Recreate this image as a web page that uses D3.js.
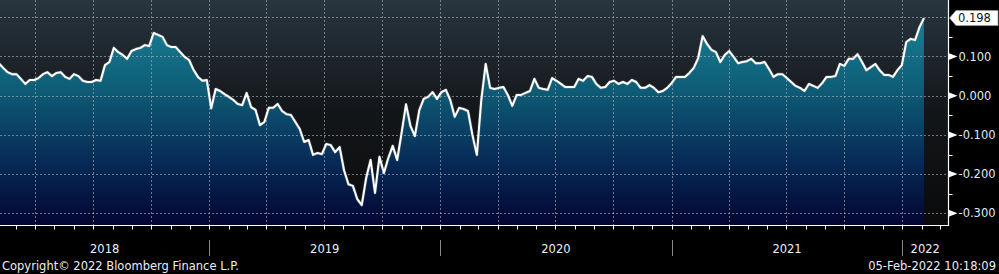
<!DOCTYPE html>
<html>
<head>
<meta charset="utf-8">
<script src="https://cdn.jsdelivr.net/npm/d3@7"></script>
<style>
	html, body { margin: 0; padding: 0; background: #000; }
	svg { display: block; }
	text { font-family: "DejaVu Sans", sans-serif; font-size: 11.5px; }
</style>
</head>
<body>
<svg id="chart" width="999" height="274"></svg>
<script>

function whenDocumentLoaded(action) {
	if (document.readyState === "loading") {
		document.addEventListener("DOMContentLoaded", action);
	} else {
		action();
	}
}

// weekly closes (Fridays) starting 2018-02-02
const START_DATE = "2018-02-02";
const VALUES = [
	0.083, 0.071, 0.060, 0.055, 0.055, 0.043, 0.030, 0.040, 0.040, 0.045,
	0.055, 0.060, 0.050, 0.058, 0.060, 0.048, 0.043, 0.055, 0.050, 0.038,
	0.035, 0.035, 0.040, 0.038, 0.078, 0.086, 0.122, 0.111, 0.104, 0.094,
	0.114, 0.119, 0.122, 0.129, 0.127, 0.160, 0.155, 0.150, 0.129, 0.124,
	0.124, 0.111, 0.099, 0.091, 0.066, 0.048, 0.038, 0.040, -0.032, 0.017,
	0.012, 0.004, -0.003, -0.011, -0.021, -0.024, 0.007, -0.029, -0.036, -0.075,
	-0.067, -0.031, -0.031, -0.021, -0.039, -0.047, -0.049, -0.067, -0.085, -0.118,
	-0.113, -0.151, -0.146, -0.149, -0.123, -0.126, -0.144, -0.131, -0.190, -0.226,
	-0.230, -0.264, -0.279, -0.210, -0.164, -0.248, -0.156, -0.197, -0.159, -0.128,
	-0.164, -0.095, -0.022, -0.077, -0.103, -0.037, -0.008, -0.003, 0.009, -0.008,
	0.009, 0.015, -0.011, -0.054, -0.031, -0.034, -0.039, -0.100, -0.151, -0.011,
	0.081, 0.020, 0.017, 0.020, 0.022, 0.002, -0.026, 0.002, 0.002, 0.007,
	0.012, 0.043, 0.020, 0.017, 0.015, 0.045, 0.038, 0.030, 0.022, 0.022,
	0.022, 0.043, 0.038, 0.050, 0.048, 0.030, 0.020, 0.022, 0.035, 0.038,
	0.030, 0.035, 0.030, 0.040, 0.035, 0.020, 0.020, 0.027, 0.020, 0.009,
	0.012, 0.020, 0.032, 0.048, 0.048, 0.048, 0.058, 0.071, 0.096, 0.152,
	0.132, 0.117, 0.111, 0.086, 0.104, 0.114, 0.099, 0.083, 0.086, 0.088,
	0.094, 0.083, 0.083, 0.086, 0.068, 0.048, 0.055, 0.055, 0.045, 0.035,
	0.025, 0.020, 0.012, 0.030, 0.025, 0.020, 0.032, 0.048, 0.048, 0.050,
	0.081, 0.076, 0.094, 0.094, 0.106, 0.086, 0.065, 0.073, 0.081, 0.065,
	0.053, 0.053, 0.048, 0.065, 0.078, 0.137, 0.145, 0.142, 0.175, 0.198
];
const Y_LABELS = [0.1, 0.0, -0.1, -0.2, -0.3];
const Y_GRID = [0.2, 0.1, 0.0, -0.1, -0.2, -0.3];
const Y_MINOR = [0.15, 0.05, -0.05, -0.15, -0.25];
const YEARS = [2018, 2019, 2020, 2021, 2022];
const COPYRIGHT = "Copyright\u00a9 2022 Bloomberg Finance L.P.";
const STAMP = "05-Feb-2022 10:18:09";

const PLOT = { width: 948, height: 225 };

class BloombergChart {
	constructor(svgId, data) {
		this.svg = d3.select(`#${svgId}`);
		this.data = data;
		this.x = d3.scaleTime()
			.domain([new Date(2018, 1, 4), new Date(2022, 2, 14)])
			.range([0, PLOT.width]);
		this.y = d3.scaleLinear()
			.domain([-0.3298, 0.2441])
			.range([PLOT.height, 0]);
	}

	defs() {
		const defs = this.svg.append("defs");
		const bg = defs.append("linearGradient").attr("id", "bg")
			.attr("x1", 0).attr("y1", 0).attr("x2", 0).attr("y2", 1);
		bg.append("stop").attr("offset", "0%").attr("stop-color", "#28353f");
		bg.append("stop").attr("offset", "50%").attr("stop-color", "#131619");
		bg.append("stop").attr("offset", "100%").attr("stop-color", "#0a0a0b");

		const fill = defs.append("linearGradient").attr("id", "fill")
			.attr("gradientUnits", "userSpaceOnUse")
			.attr("x1", 0).attr("y1", 0).attr("x2", 0).attr("y2", PLOT.height);
		fill.append("stop").attr("offset", "0%").attr("stop-color", "#1a8a9c");
		fill.append("stop").attr("offset", "40%").attr("stop-color", "#0e5c76");
		fill.append("stop").attr("offset", "72%").attr("stop-color", "#072a56");
		fill.append("stop").attr("offset", "100%").attr("stop-color", "#020532");

		defs.append("clipPath").attr("id", "clip")
			.append("rect").attr("width", PLOT.width).attr("height", PLOT.height);
	}

	show() {
		this.defs();
		const x = this.x, y = this.y;

		this.svg.append("rect")
			.attr("width", PLOT.width).attr("height", PLOT.height)
			.attr("fill", "url(#bg)");

		const plot = this.svg.append("g").attr("clip-path", "url(#clip)");

		const area = d3.area()
			.x(d => x(d.date))
			.y0(PLOT.height)
			.y1(d => y(d.value));
		plot.append("path")
			.datum(this.data)
			.attr("d", area)
			.attr("fill", "url(#fill)");

		// grid
		const grid = plot.append("g")
			.attr("stroke", "#a4acb4")
			.attr("stroke-opacity", 0.65)
			.attr("stroke-dasharray", "2,2");
		grid.selectAll(".hg")
			.data(Y_GRID)
			.enter()
			.append("line")
			.attr("x1", 0).attr("x2", PLOT.width)
			.attr("y1", d => Math.round(y(d)) + 0.5)
			.attr("y2", d => Math.round(y(d)) + 0.5);
		grid.selectAll(".vg")
			.data(x.ticks(d3.timeMonth.every(3)))
			.enter()
			.append("line")
			.attr("y1", 0).attr("y2", PLOT.height)
			.attr("x1", d => Math.round(x(d)) + 0.5)
			.attr("x2", d => Math.round(x(d)) + 0.5);

		const line = d3.line()
			.x(d => x(d.date))
			.y(d => y(d.value));
		plot.append("path")
			.datum(this.data)
			.attr("d", line)
			.attr("fill", "none")
			.attr("stroke", "#9aa3aa")
			.attr("stroke-width", 3.2)
			.attr("stroke-opacity", 0.35)
			.attr("stroke-linejoin", "round");
		plot.append("path")
			.datum(this.data)
			.attr("d", line)
			.attr("fill", "none")
			.attr("stroke", "#ffffff")
			.attr("stroke-width", 2)
			.attr("stroke-linejoin", "round");

		this.rightAxis();
		this.bottomAxis();
		this.lastValue();

		this.svg.append("text")
			.attr("x", 2).attr("y", 269.5)
			.attr("fill", "#e8eef6")
			.text(COPYRIGHT);
		this.svg.append("text")
			.attr("x", 996).attr("y", 269.5)
			.attr("text-anchor", "end")
			.attr("fill", "#e8eef6")
			.text(STAMP);
	}

	rightAxis() {
		const y = this.y;
		const ax = this.svg.append("g").attr("transform", `translate(${PLOT.width + 0.5},0)`);
		ax.append("line")
			.attr("x1", 0).attr("x2", 0)
			.attr("y1", 0).attr("y2", PLOT.height + 1)
			.attr("stroke", "#fff").attr("stroke-width", 1.2);
		ax.selectAll(".minor")
			.data(Y_MINOR)
			.enter()
			.append("line")
			.attr("x1", 0).attr("x2", 4)
			.attr("y1", d => Math.round(y(d)) + 0.5)
			.attr("y2", d => Math.round(y(d)) + 0.5)
			.attr("stroke", "#fff");
		const major = ax.selectAll(".major")
			.data(Y_LABELS)
			.enter()
			.append("g")
			.attr("transform", d => `translate(0,${y(d)})`);
		major.append("path")
			.attr("d", "M0,-3.5L9,0L0,3.5Z")
			.attr("fill", "#fff");
		major.append("text")
			.attr("x", 10).attr("dy", "0.36em")
			.attr("fill", "#dfeaf6")
			.text(d => d3.format(".3f")(d).replace("\u2212", "-"));
	}

	bottomAxis() {
		const x = this.x;
		const base = PLOT.height + 0.5;
		const ax = this.svg.append("g");
		ax.append("line")
			.attr("x1", 0).attr("x2", PLOT.width + 1)
			.attr("y1", base).attr("y2", base)
			.attr("stroke", "#fff").attr("stroke-width", 1.2);
		ax.selectAll(".mt")
			.data(x.ticks(d3.timeMonth.every(1)))
			.enter()
			.append("line")
			.attr("x1", d => Math.round(x(d)) + 0.5)
			.attr("x2", d => Math.round(x(d)) + 0.5)
			.attr("y1", base).attr("y2", base + 4)
			.attr("stroke", "#fff");

		const [d0, d1] = x.domain();
		const years = YEARS.map(yr => {
			const s = new Date(yr, 0, 1), e = new Date(yr + 1, 0, 1);
			return { year: yr, start: s < d0 ? d0 : s, end: e > d1 ? d1 : e, boundary: s > d0 ? s : null };
		});
		ax.selectAll(".sep")
			.data(years.filter(d => d.boundary))
			.enter()
			.append("line")
			.attr("x1", d => Math.round(x(d.boundary)) + 0.5)
			.attr("x2", d => Math.round(x(d.boundary)) + 0.5)
			.attr("y1", 240).attr("y2", 256)
			.attr("stroke", "#8a8a8a");
		ax.selectAll(".yl")
			.data(years)
			.enter()
			.append("text")
			.attr("x", d => (x(d.start) + x(d.end)) / 2)
			.attr("y", 252.5)
			.attr("text-anchor", "middle")
			.attr("fill", "#eaf0f8")
			.text(d => d.year);
	}

	lastValue() {
		const last = this.data[this.data.length - 1];
		const cy = this.y(last.value);
		const g = this.svg.append("g").attr("transform", `translate(${PLOT.width + 1},${cy})`);
		g.append("path")
			.attr("d", "M0.5,0L7,-7.5L49,-7.5L49,7.5L7,7.5Z")
			.attr("fill", "#fff")
			.attr("stroke", "#9a9a9a")
			.attr("stroke-width", 0.8);
		g.append("text")
			.attr("x", 9).attr("dy", "0.36em")
			.attr("fill", "#10131a")
			.text(d3.format(".3f")(last.value));
	}
}

whenDocumentLoaded(() => {
	const start = new Date(START_DATE + "T00:00:00");
	const data = VALUES.map((v, i) => ({ date: d3.timeDay.offset(start, 7 * i), value: v }));
	const chart = new BloombergChart("chart", data);
	chart.show();
});

</script>
</body>
</html>
